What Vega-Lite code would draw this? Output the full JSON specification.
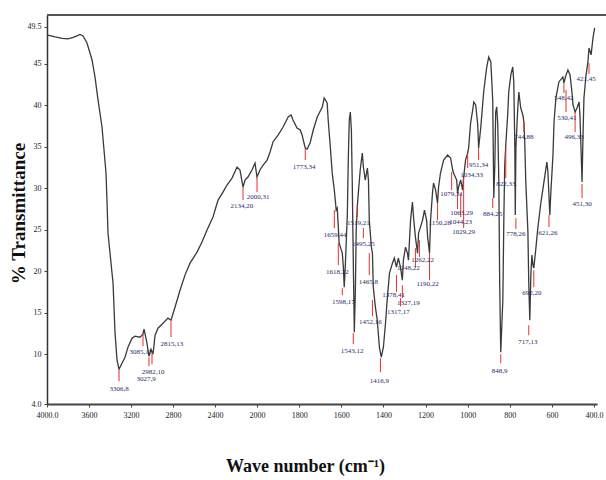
{
  "$schema": "https://vega.github.io/schema/vega-lite/v6.json",
  "width": 550,
  "height": 389,
  "autosize": {"type": "none"},
  "padding": {"left": 47, "top": 15, "right": 9, "bottom": 76},
  "background": "white",
  "config": {"view": {"stroke": null}, "axis": {"grid": false}},
  "datasets": {
    "spec": [
      {"wn": 4000, "t": 48.5}, {"wn": 3924, "t": 48.26}, {"wn": 3857, "t": 48.08}, {"wn": 3800, "t": 48.02},
      {"wn": 3752, "t": 48.2}, {"wn": 3714, "t": 48.38}, {"wn": 3686, "t": 48.56}, {"wn": 3657, "t": 48.38},
      {"wn": 3619, "t": 47.53}, {"wn": 3571, "t": 45.48}, {"wn": 3543, "t": 43.43}, {"wn": 3514, "t": 40.66},
      {"wn": 3476, "t": 37.4}, {"wn": 3457, "t": 34.62}, {"wn": 3438, "t": 31.85}, {"wn": 3429, "t": 28.59},
      {"wn": 3419, "t": 24.6}, {"wn": 3371, "t": 18.57}, {"wn": 3352, "t": 12.54}, {"wn": 3333, "t": 9.28},
      {"wn": 3314, "t": 8.19}, {"wn": 3286, "t": 8.92}, {"wn": 3257, "t": 9.64}, {"wn": 3229, "t": 10.85},
      {"wn": 3190, "t": 11.93}, {"wn": 3162, "t": 12.17}, {"wn": 3114, "t": 12.05}, {"wn": 3086, "t": 12.42},
      {"wn": 3076, "t": 13.02}, {"wn": 3048, "t": 11.33}, {"wn": 3029, "t": 9.76}, {"wn": 3010, "t": 10.6},
      {"wn": 2990, "t": 10.0}, {"wn": 2971, "t": 12.3}, {"wn": 2943, "t": 13.14}, {"wn": 2895, "t": 13.74},
      {"wn": 2848, "t": 14.35}, {"wn": 2819, "t": 14.1}, {"wn": 2781, "t": 15.67}, {"wn": 2733, "t": 17.72},
      {"wn": 2686, "t": 19.54}, {"wn": 2638, "t": 20.98}, {"wn": 2571, "t": 22.31}, {"wn": 2524, "t": 23.52},
      {"wn": 2476, "t": 24.97}, {"wn": 2419, "t": 26.54}, {"wn": 2371, "t": 28.59}, {"wn": 2324, "t": 29.55},
      {"wn": 2286, "t": 30.4}, {"wn": 2238, "t": 31.24}, {"wn": 2190, "t": 32.57}, {"wn": 2162, "t": 32.21},
      {"wn": 2133, "t": 30.16}, {"wn": 2114, "t": 31.0}, {"wn": 2086, "t": 31.36}, {"wn": 2048, "t": 32.21},
      {"wn": 2019, "t": 33.05}, {"wn": 2000, "t": 31.36}, {"wn": 1986, "t": 32.21}, {"wn": 1971, "t": 32.81},
      {"wn": 1952, "t": 33.41}, {"wn": 1938, "t": 34.38}, {"wn": 1924, "t": 35.59}, {"wn": 1900, "t": 36.43},
      {"wn": 1876, "t": 37.4}, {"wn": 1852, "t": 38.6}, {"wn": 1838, "t": 38.85}, {"wn": 1829, "t": 38.24},
      {"wn": 1810, "t": 37.28}, {"wn": 1795, "t": 37.03}, {"wn": 1786, "t": 36.43}, {"wn": 1771, "t": 34.86},
      {"wn": 1762, "t": 34.74}, {"wn": 1748, "t": 35.47}, {"wn": 1733, "t": 37.03}, {"wn": 1714, "t": 38.6},
      {"wn": 1690, "t": 39.81}, {"wn": 1681, "t": 40.9}, {"wn": 1667, "t": 40.29}, {"wn": 1662, "t": 38.24},
      {"wn": 1652, "t": 34.98}, {"wn": 1643, "t": 31.85}, {"wn": 1633, "t": 29.79}, {"wn": 1624, "t": 27.38},
      {"wn": 1619, "t": 27.62}, {"wn": 1614, "t": 25.33}, {"wn": 1610, "t": 23.4}, {"wn": 1595, "t": 22.19},
      {"wn": 1590, "t": 20.5}, {"wn": 1586, "t": 18.09}, {"wn": 1581, "t": 20.5}, {"wn": 1571, "t": 27.02},
      {"wn": 1567, "t": 33.05}, {"wn": 1562, "t": 38.24}, {"wn": 1557, "t": 39.21}, {"wn": 1552, "t": 37.03},
      {"wn": 1548, "t": 31.0}, {"wn": 1543, "t": 21.35}, {"wn": 1538, "t": 12.66}, {"wn": 1533, "t": 17.72},
      {"wn": 1529, "t": 24.97}, {"wn": 1524, "t": 27.74}, {"wn": 1519, "t": 29.43}, {"wn": 1510, "t": 32.21},
      {"wn": 1500, "t": 34.26}, {"wn": 1495, "t": 32.57}, {"wn": 1486, "t": 31.0}, {"wn": 1476, "t": 32.45},
      {"wn": 1471, "t": 31.0}, {"wn": 1467, "t": 26.17}, {"wn": 1457, "t": 22.91}, {"wn": 1452, "t": 22.19},
      {"wn": 1448, "t": 18.09}, {"wn": 1438, "t": 15.67}, {"wn": 1429, "t": 14.1}, {"wn": 1419, "t": 10.85},
      {"wn": 1410, "t": 9.64}, {"wn": 1400, "t": 10.85}, {"wn": 1390, "t": 13.74}, {"wn": 1381, "t": 16.88},
      {"wn": 1371, "t": 19.78}, {"wn": 1357, "t": 20.98}, {"wn": 1348, "t": 21.59}, {"wn": 1338, "t": 20.5},
      {"wn": 1329, "t": 21.59}, {"wn": 1319, "t": 20.5}, {"wn": 1310, "t": 18.93}, {"wn": 1305, "t": 21.35},
      {"wn": 1295, "t": 22.91}, {"wn": 1286, "t": 22.19}, {"wn": 1281, "t": 21.35}, {"wn": 1271, "t": 26.17},
      {"wn": 1262, "t": 28.35}, {"wn": 1257, "t": 26.54}, {"wn": 1248, "t": 24.12}, {"wn": 1238, "t": 22.19},
      {"wn": 1233, "t": 24.6}, {"wn": 1224, "t": 25.33}, {"wn": 1214, "t": 26.17}, {"wn": 1205, "t": 27.38},
      {"wn": 1195, "t": 26.17}, {"wn": 1190, "t": 24.12}, {"wn": 1181, "t": 22.19}, {"wn": 1176, "t": 26.17},
      {"wn": 1167, "t": 29.43}, {"wn": 1162, "t": 30.64}, {"wn": 1152, "t": 29.79}, {"wn": 1143, "t": 28.22},
      {"wn": 1138, "t": 30.16}, {"wn": 1129, "t": 31.85}, {"wn": 1114, "t": 33.41}, {"wn": 1095, "t": 34.02},
      {"wn": 1081, "t": 33.66}, {"wn": 1071, "t": 32.21}, {"wn": 1067, "t": 31.85}, {"wn": 1052, "t": 31.0},
      {"wn": 1048, "t": 29.43}, {"wn": 1043, "t": 30.16}, {"wn": 1033, "t": 31.0}, {"wn": 1024, "t": 29.79},
      {"wn": 1019, "t": 31.36}, {"wn": 1010, "t": 33.41}, {"wn": 1000, "t": 34.26}, {"wn": 995, "t": 34.98},
      {"wn": 986, "t": 37.88}, {"wn": 976, "t": 39.45}, {"wn": 971, "t": 40.41}, {"wn": 962, "t": 40.05},
      {"wn": 952, "t": 37.64}, {"wn": 948, "t": 34.86}, {"wn": 938, "t": 37.28}, {"wn": 924, "t": 41.62},
      {"wn": 910, "t": 44.52}, {"wn": 900, "t": 45.84}, {"wn": 890, "t": 45.24}, {"wn": 881, "t": 40.66},
      {"wn": 876, "t": 28.83}, {"wn": 871, "t": 32.81}, {"wn": 867, "t": 39.21}, {"wn": 862, "t": 39.81},
      {"wn": 857, "t": 37.64}, {"wn": 852, "t": 30.76}, {"wn": 848, "t": 18.69}, {"wn": 843, "t": 10.24},
      {"wn": 833, "t": 16.52}, {"wn": 828, "t": 26.78}, {"wn": 824, "t": 32.81}, {"wn": 819, "t": 35.22},
      {"wn": 810, "t": 38.85}, {"wn": 805, "t": 41.62}, {"wn": 795, "t": 43.67}, {"wn": 786, "t": 44.64},
      {"wn": 781, "t": 42.83}, {"wn": 776, "t": 34.86}, {"wn": 774, "t": 26.78}, {"wn": 771, "t": 34.86},
      {"wn": 762, "t": 39.69}, {"wn": 757, "t": 41.62}, {"wn": 748, "t": 39.69}, {"wn": 738, "t": 38.85},
      {"wn": 733, "t": 38.0}, {"wn": 729, "t": 35.59}, {"wn": 724, "t": 30.76}, {"wn": 714, "t": 24.72},
      {"wn": 710, "t": 18.69}, {"wn": 705, "t": 14.1}, {"wn": 700, "t": 19.54}, {"wn": 695, "t": 21.95},
      {"wn": 690, "t": 20.74}, {"wn": 686, "t": 20.38}, {"wn": 676, "t": 22.79}, {"wn": 667, "t": 25.21},
      {"wn": 652, "t": 28.35}, {"wn": 638, "t": 30.76}, {"wn": 624, "t": 33.17}, {"wn": 619, "t": 31.97},
      {"wn": 610, "t": 26.78}, {"wn": 605, "t": 29.55}, {"wn": 595, "t": 34.02}, {"wn": 590, "t": 38.0},
      {"wn": 581, "t": 40.9}, {"wn": 567, "t": 42.83}, {"wn": 548, "t": 43.43}, {"wn": 543, "t": 42.71},
      {"wn": 533, "t": 43.67}, {"wn": 524, "t": 44.28}, {"wn": 514, "t": 43.67}, {"wn": 505, "t": 41.62},
      {"wn": 500, "t": 40.05}, {"wn": 490, "t": 39.21}, {"wn": 481, "t": 39.69}, {"wn": 471, "t": 40.41},
      {"wn": 467, "t": 38.85}, {"wn": 462, "t": 34.86}, {"wn": 457, "t": 30.76}, {"wn": 452, "t": 36.79},
      {"wn": 448, "t": 40.9}, {"wn": 438, "t": 43.67}, {"wn": 429, "t": 45.24}, {"wn": 424, "t": 46.93},
      {"wn": 414, "t": 46.09}, {"wn": 405, "t": 48.14}, {"wn": 397, "t": 49.34}
    ],
    "ann": [
      {"label": "3306,8", "wn": 3314, "t1": 8.07, "t2": 6.74, "lx": 3314, "lt": 5.78},
      {"label": "3085,17", "wn": 3086, "t1": 12.41, "t2": 10.97, "lx": 3105, "lt": 10.24},
      {"label": "2982,10", "wn": 3000, "t1": 10.24, "t2": 8.79, "lx": 2990, "lt": 7.83},
      {"label": "3027,9", "wn": 3029, "t1": 9.64, "t2": 8.55, "lx": 3057, "lt": 6.98},
      {"label": "2815,13", "wn": 2819, "t1": 13.98, "t2": 12.05, "lx": 2810, "lt": 11.21},
      {"label": "2134,20", "wn": 2133, "t1": 30.16, "t2": 28.59, "lx": 2143, "lt": 27.86},
      {"label": "2000,31", "wn": 2000, "t1": 31.24, "t2": 29.55, "lx": 1995, "lt": 28.95},
      {"label": "1773,34", "wn": 1771, "t1": 34.74, "t2": 33.41, "lx": 1776, "lt": 32.57},
      {"label": "1659,44", "wn": 1633, "t1": 27.38, "t2": 25.21, "lx": 1629, "lt": 24.36},
      {"label": "1618,22", "wn": 1614, "t1": 23.4, "t2": 20.74, "lx": 1619, "lt": 19.9},
      {"label": "1598,17", "wn": 1595, "t1": 17.97, "t2": 17.12, "lx": 1590, "lt": 16.28},
      {"label": "1543,12", "wn": 1543, "t1": 12.54, "t2": 11.21, "lx": 1548, "lt": 10.36},
      {"label": "1519,21", "wn": 1524, "t1": 27.98, "t2": 26.54, "lx": 1519, "lt": 25.81},
      {"label": "1495,25", "wn": 1495, "t1": 25.21, "t2": 24.0, "lx": 1495, "lt": 23.28},
      {"label": "1465,8", "wn": 1467, "t1": 22.19, "t2": 19.54, "lx": 1471, "lt": 18.69},
      {"label": "1452,16", "wn": 1452, "t1": 16.52, "t2": 14.59, "lx": 1462, "lt": 13.86},
      {"label": "1416,9", "wn": 1414, "t1": 9.52, "t2": 7.83, "lx": 1419, "lt": 6.74},
      {"label": "1378,41", "wn": 1338, "t1": 19.54, "t2": 17.48, "lx": 1352, "lt": 17.12},
      {"label": "1327,19", "wn": 1310, "t1": 18.33, "t2": 16.76, "lx": 1281, "lt": 16.16},
      {"label": "1317,17", "wn": 1319, "t1": 16.76, "t2": 15.79, "lx": 1329, "lt": 15.07},
      {"label": "1262,22", "wn": 1229, "t1": 23.76, "t2": 21.71, "lx": 1214, "lt": 21.35},
      {"label": "1248,22", "wn": 1248, "t1": 22.79, "t2": 20.5, "lx": 1281, "lt": 20.38},
      {"label": "1190,22", "wn": 1181, "t1": 22.19, "t2": 18.93, "lx": 1190, "lt": 18.45},
      {"label": "1150,28", "wn": 1143, "t1": 28.22, "t2": 26.17, "lx": 1133, "lt": 25.81},
      {"label": "1079,31", "wn": 1076, "t1": 31.97, "t2": 29.79, "lx": 1076, "lt": 29.31},
      {"label": "1063,29", "wn": 1048, "t1": 29.43, "t2": 27.5, "lx": 1029, "lt": 27.02},
      {"label": "1044,23", "wn": 1033, "t1": 29.43, "t2": 26.54, "lx": 1033, "lt": 25.93},
      {"label": "1029,29", "wn": 1019, "t1": 31.24, "t2": 25.21, "lx": 1019, "lt": 24.72},
      {"label": "1034,33", "wn": 1000, "t1": 34.26, "t2": 32.45, "lx": 981, "lt": 31.6},
      {"label": "951,34", "wn": 948, "t1": 34.86, "t2": 33.41, "lx": 948, "lt": 32.81},
      {"label": "884,25", "wn": 881, "t1": 28.83, "t2": 27.62, "lx": 881, "lt": 26.9},
      {"label": "848,9", "wn": 843, "t1": 10.0, "t2": 8.91, "lx": 848, "lt": 7.95},
      {"label": "822,33", "wn": 819, "t1": 34.86, "t2": 31.24, "lx": 819, "lt": 30.52},
      {"label": "778,26", "wn": 771, "t1": 26.41, "t2": 25.09, "lx": 771, "lt": 24.48},
      {"label": "744,88", "wn": 733, "t1": 38.0, "t2": 36.79, "lx": 733, "lt": 36.19},
      {"label": "717,13", "wn": 710, "t1": 13.5, "t2": 12.29, "lx": 714, "lt": 11.45},
      {"label": "692,20", "wn": 686, "t1": 20.14, "t2": 18.09, "lx": 695, "lt": 17.36},
      {"label": "621,26", "wn": 614, "t1": 26.78, "t2": 25.33, "lx": 619, "lt": 24.6},
      {"label": "548,42", "wn": 543, "t1": 42.71, "t2": 41.5, "lx": 543, "lt": 40.9},
      {"label": "530,41", "wn": 533, "t1": 41.86, "t2": 39.21, "lx": 529, "lt": 38.48},
      {"label": "496,33", "wn": 490, "t1": 39.21, "t2": 36.79, "lx": 495, "lt": 36.19},
      {"label": "451,30", "wn": 457, "t1": 30.52, "t2": 28.83, "lx": 457, "lt": 28.1},
      {"label": "421,45", "wn": 424, "t1": 45.12, "t2": 43.79, "lx": 438, "lt": 43.19}
    ],
    "frame": [{"t": 50.9}]
  },
  "layer": [
    {
      "data": {"name": "spec"},
      "mark": {"type": "line", "color": "#3a3a3a", "strokeWidth": 1.3},
      "encoding": {
        "x": {
          "field": "wn", "type": "quantitative",
          "scale": {"type": "linear", "domain": [4000, 2000, 386], "range": [0, 210, 550], "nice": false, "zero": false},
          "axis": {
            "values": [4000, 3600, 3200, 2800, 2400, 2000, 1800, 1600, 1400, 1200, 1000, 800, 600, 400],
            "labelExpr": "datum.value == 4000 ? '4000.0' : datum.value == 400 ? '400.0' : format(datum.value, 'd')",
            "labelFont": "Liberation Serif", "labelFontSize": 8, "labelColor": "#222222",
            "labelPadding": 4, "labelOverlap": false, "labelFlush": false,
            "tickSize": 3, "tickColor": "#444444",
            "domainColor": "#444444", "domainWidth": 2,
            "title": "Wave number (cm⁻¹)",
            "titleFont": "Liberation Serif", "titleFontWeight": "bold", "titleFontSize": 18, "titleColor": "#111111",
            "titleX": 258, "titleY": 62, "titleAlign": "center", "titleBaseline": "middle"
          }
        },
        "y": {
          "field": "t", "type": "quantitative",
          "scale": {"domain": [4, 50.9], "nice": false, "zero": false},
          "axis": {
            "values": [4, 10, 15, 20, 25, 30, 35, 40, 45, 49.5],
            "labelExpr": "datum.value == 4 ? '4.0' : datum.value == 49.5 ? '49.5' : format(datum.value, 'd')",
            "labelFont": "Liberation Serif", "labelFontSize": 8, "labelColor": "#222222",
            "labelPadding": 3, "labelOverlap": false, "labelFlush": false,
            "tickSize": 3, "tickColor": "#444444",
            "domainColor": "#333333", "domainWidth": 1.5,
            "title": "% Transmittance",
            "titleFont": "Liberation Serif", "titleFontWeight": "bold", "titleFontSize": 19, "titleColor": "#111111",
            "titleX": -29, "titleY": 198, "titleAngle": 270, "titleAlign": "center", "titleBaseline": "middle"
          }
        }
      }
    },
    {
      "data": {"name": "frame"},
      "mark": {"type": "rule", "color": "#555555", "strokeWidth": 2, "clip": false},
      "encoding": {
        "x": {"datum": 4000, "type": "quantitative"},
        "x2": {"datum": 343},
        "y": {"field": "t", "type": "quantitative"}
      }
    },
    {
      "data": {"name": "ann"},
      "mark": {"type": "rule", "color": "#e8302a", "strokeWidth": 1},
      "encoding": {
        "x": {"field": "wn", "type": "quantitative"},
        "y": {"field": "t1", "type": "quantitative"},
        "y2": {"field": "t2"}
      }
    },
    {
      "data": {"name": "ann"},
      "mark": {"type": "text", "font": "Liberation Serif", "fontSize": 7, "color": "#2a2a6e", "baseline": "middle", "align": "center"},
      "encoding": {
        "x": {"field": "lx", "type": "quantitative"},
        "y": {"field": "lt", "type": "quantitative"},
        "text": {"field": "label", "type": "nominal"}
      }
    }
  ]
}
